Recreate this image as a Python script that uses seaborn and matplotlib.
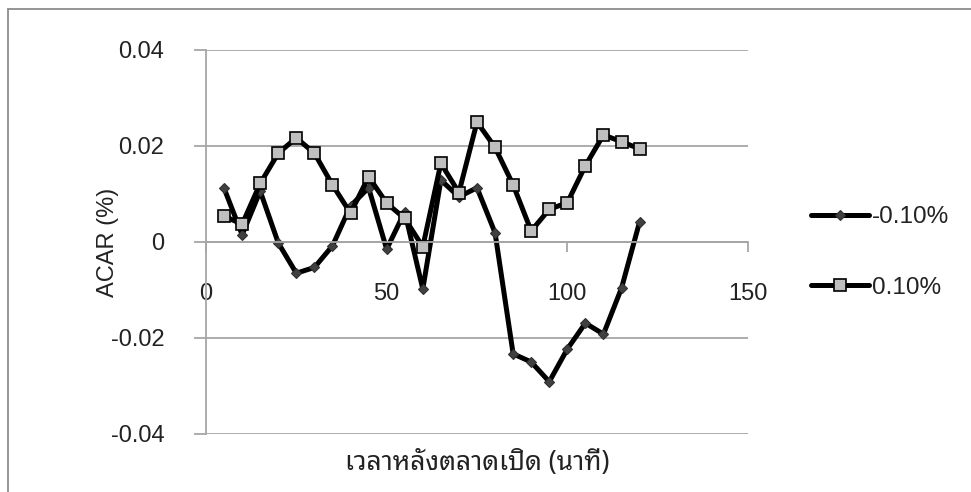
import matplotlib
matplotlib.use("Agg")
import matplotlib.pyplot as plt
import matplotlib.patches as mpatches
import pandas as pd
import seaborn as sns

# minutes after market open
minutes = [5, 10, 15, 20, 25, 30, 35, 40, 45, 50, 55, 60,
           65, 70, 75, 80, 85, 90, 95, 100, 105, 110, 115, 120]

# ACAR series
acar_neg = [0.0112, 0.0015, 0.0106, -0.0002, -0.0065, -0.0053, -0.0008, 0.0075,
            0.0113, -0.0015, 0.0063, -0.0098, 0.0129, 0.0094, 0.0113, 0.0019,
            -0.0233, -0.0250, -0.0291, -0.0223, -0.0169, -0.0192, -0.0096, 0.0042]
acar_pos = [0.0054, 0.0037, 0.0122, 0.0185, 0.0217, 0.0185, 0.0119, 0.0060,
            0.0136, 0.0081, 0.0049, -0.0010, 0.0164, 0.0103, 0.0250, 0.0197,
            0.0119, 0.0023, 0.0068, 0.0082, 0.0159, 0.0223, 0.0209, 0.0194]
labels = ["-0.10%", "0.10%"]

x_ticks = [0, 50, 100, 150]
y_ticks = [-0.04, -0.02, 0, 0.02, 0.04]
y_tick_labels = ["-0.04", "-0.02", "0", "0.02", "0.04"]

df = pd.DataFrame({"minute": minutes, "neg": acar_neg, "pos": acar_pos})

sns.set_style("white")
plt.rcParams["font.family"] = ["Liberation Sans", "DejaVu Sans"]
thai = ["Noto Sans Thai Looped", "Liberation Sans", "DejaVu Sans"]

grid_c = "#a6a6a6"
fig = plt.figure(figsize=(9.71, 4.92), dpi=100)
ax = fig.add_axes([206 / 971, 1 - 434 / 492, 542 / 971, 384 / 492])

sns.lineplot(data=df, x="minute", y="neg", ax=ax, color="black", linewidth=3.6,
             marker="D", markersize=5.5, markerfacecolor="#404040",
             markeredgecolor="#303030", markeredgewidth=0.8, label=labels[0])
sns.lineplot(data=df, x="minute", y="pos", ax=ax, color="black", linewidth=3.6,
             marker="s", markersize=8.5, markerfacecolor="#bfbfbf",
             markeredgecolor="black", markeredgewidth=1.2, label=labels[1])

ax.set_xlim(0, 150)
ax.set_ylim(-0.04, 0.04)
ax.set_xticks(x_ticks)
ax.set_yticks(y_ticks)
ax.set_yticklabels(y_tick_labels)
for y in y_ticks:
    ax.axhline(y, color=grid_c, lw=1.3, zorder=0)

for s in ["top", "right"]:
    ax.spines[s].set_visible(False)
ax.spines["left"].set_color(grid_c)
ax.spines["left"].set_linewidth(1.3)
ax.spines["bottom"].set_position(("data", 0))
ax.spines["bottom"].set_color(grid_c)
ax.spines["bottom"].set_linewidth(1.3)

ax.tick_params(axis="y", direction="out", length=9, width=1.3, color=grid_c,
               pad=21, labelsize=17, labelcolor="#222222", left=True)
ax.tick_params(axis="x", direction="out", length=7.5, width=1.3, color=grid_c,
               pad=22, labelsize=17, labelcolor="#222222", bottom=True)

ax.set_xlabel("เวลาหลังตลาดเปิด (นาที)", family=thai, fontsize=19, color="#222222")
ax.xaxis.set_label_coords(0.5, -0.04)
ax.xaxis.label.set_va("top")
ax.set_ylabel("ACAR (%)", fontsize=17, color="#222222")
ax.yaxis.set_label_coords(-0.16, 0.5)

ax.legend(loc="center left", bbox_to_anchor=(811 / 971, 1 - 252.5 / 492),
          bbox_transform=fig.transFigure, frameon=False, fontsize=17.5,
          handlelength=2.4, handletextpad=0.1, labelspacing=2.0,
          borderpad=0, borderaxespad=0, labelcolor="#222222")

fig.patches.append(mpatches.Rectangle((8 / 971, -0.1), 1.0, 1.1 - 9 / 492,
                                      transform=fig.transFigure, fill=False,
                                      edgecolor="#8c8c8c", lw=1.3))

fig.savefig("out.png", dpi=100)
